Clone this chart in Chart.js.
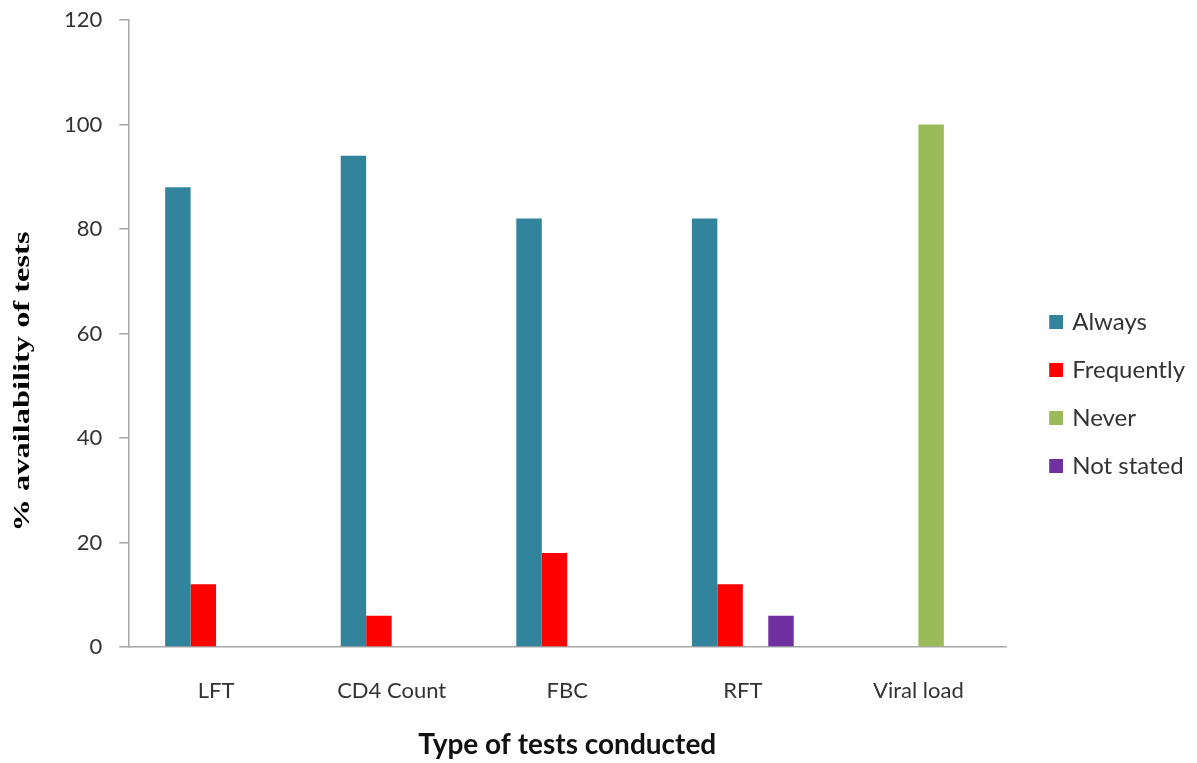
<!DOCTYPE html>
<html>
<head>
<meta charset="utf-8">
<script src="https://cdn.jsdelivr.net/npm/chart.js@4"></script>
<style>
  html, body { margin: 0; padding: 0; background: #fff; }
  #wrap { width: 1197px; height: 763px; }
</style>
</head>
<body>
<div id="wrap"><canvas id="chart"></canvas></div>
<script>
const categories = ['LFT', 'CD4 Count', 'FBC', 'RFT', 'Viral load'];
const always     = [88, 94, 82, 82, null];
const frequently = [12, 6, 18, 12, null];
const never      = [null, null, null, null, 100];
const notStated  = [null, null, null, 6, null];
const yTicks = [0, 20, 40, 60, 80, 100, 120];

// small square marker, drawn at the right end of a wider legend slot
function makeMarker(color) {
    const c = document.createElement('canvas');
    c.width = 36;
    c.height = 14;
    const g = c.getContext('2d');
    g.fillStyle = color;
    g.fillRect(22, 0, 14, 14);
    return c;
}

// y title is centred on the whole canvas height in the reference
const yTitlePlugin = {
    id: 'yTitle',
    afterDraw(chart) {
        const ctx = chart.ctx;
        const text = '% availability of tests';
        ctx.save();
        ctx.font = 'bold 23px "Liberation Serif"';
        const w = ctx.measureText(text).width;
        ctx.translate(23, chart.height / 2);
        ctx.rotate(-Math.PI / 2);
        ctx.scale(300 / w, 1);
        ctx.fillStyle = '#000';
        ctx.textAlign = 'center';
        ctx.textBaseline = 'middle';
        ctx.fillText(text, 0, 0);
        ctx.restore();
    }
};

new Chart(document.getElementById('chart'), {
    type: 'bar',
    data: {
        labels: categories,
        datasets: [
            { label: 'Always', data: always, backgroundColor: '#31849B' },
            { label: 'Frequently', data: frequently, backgroundColor: '#FF0000' },
            { label: 'Never', data: never, backgroundColor: '#9BBB59' },
            { label: 'Not stated', data: notStated, backgroundColor: '#7030A0' }
        ]
    },
    options: {
        responsive: true,
        maintainAspectRatio: false,
        animation: false,
        categoryPercentage: 0.58,
        barPercentage: 1,
        layout: { padding: { left: 47, top: 20, bottom: 1, right: 2 } },
        plugins: {
            legend: {
                position: 'right',
                title: { display: true, text: ' ', padding: 0, font: { size: 5 } },
                labels: {
                    usePointStyle: true,
                    pointStyleWidth: 30,
                    boxHeight: 14,
                    padding: 24,
                    color: '#333',
                    font: { family: 'Lato', size: 24 },
                    generateLabels(chart) {
                        const items = Chart.defaults.plugins.legend.labels.generateLabels(chart);
                        items.forEach(it => { it.pointStyle = makeMarker(it.fillStyle); });
                        return items;
                    }
                }
            },
            tooltip: { enabled: false }
        },
        scales: {
            x: {
                grid: { display: false },
                border: { color: '#a6a6a6', width: 1.5 },
                ticks: { color: '#333', padding: 23, font: { family: 'Lato', size: 22 } },
                title: {
                    display: true,
                    text: 'Type of tests conducted',
                    color: '#111',
                    padding: { top: 1, bottom: 0 },
                    font: { family: 'Lato', size: 28, weight: 'bold' }
                }
            },
            y: {
                min: 0,
                max: 120,
                afterBuildTicks: axis => { axis.ticks = yTicks.map(v => ({ value: v })); },
                afterFit: axis => { axis.paddingTop = 0; axis.paddingBottom = 0; },
                grid: { drawOnChartArea: false, tickLength: 9, color: '#a6a6a6', lineWidth: 1.5 },
                border: { color: '#a6a6a6', width: 1.5 },
                ticks: { color: '#333', padding: 17, font: { family: 'Lato', size: 22 } }
            }
        }
    },
    plugins: [yTitlePlugin]
});
</script>
</body>
</html>
